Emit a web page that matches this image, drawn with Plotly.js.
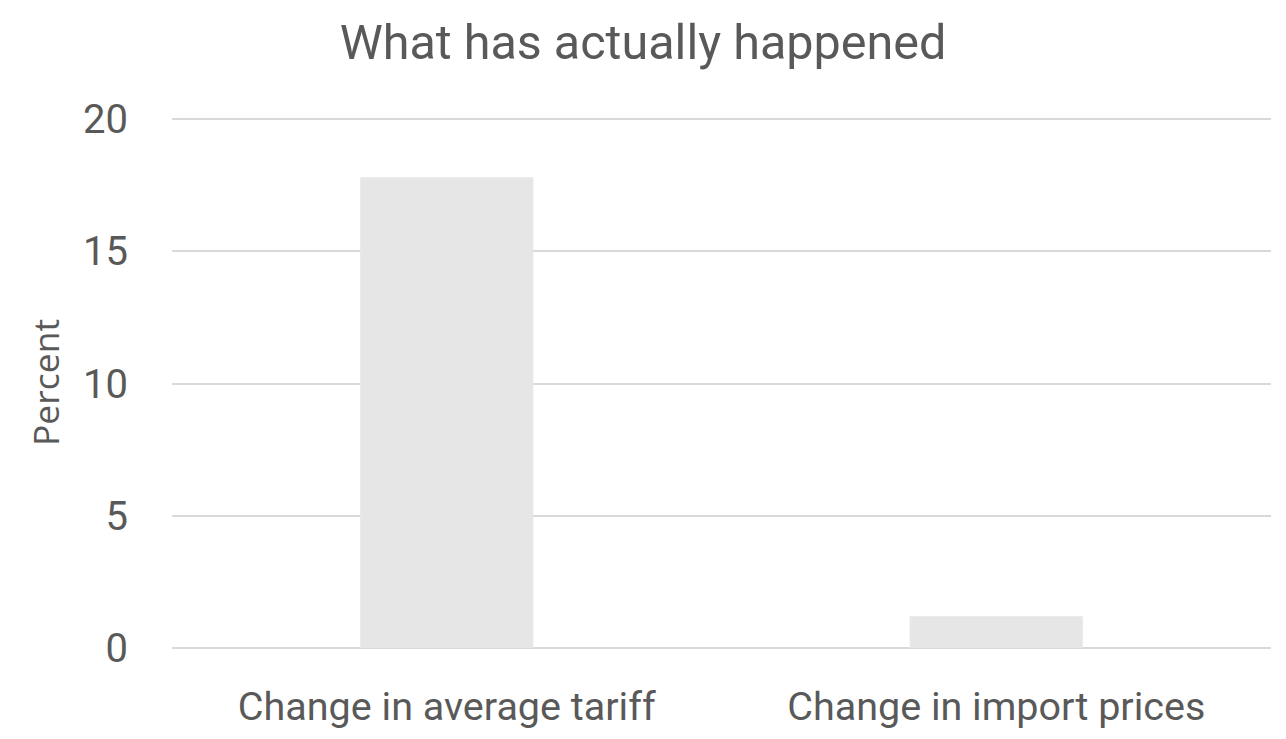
<!DOCTYPE html>
<html>
<head>
<meta charset="utf-8">
<script src="https://cdn.plot.ly/plotly-3.0.1.min.js"></script>
<style>html,body{margin:0;padding:0;background:#fff;}#chart{width:1286px;height:739px;}</style>
</head>
<body>
<div id="chart"></div>
<script>
const categories = ["Change in average tariff", "Change in import prices"];
const percentValues = [17.8, 1.2];
const yTickValues = [0, 5, 10, 15, 20];
const yTickLabels = ["0", "5", "10", "15", "20"];

const textColor = "#595959";
const fontFamily = "Roboto, 'Liberation Sans', sans-serif";

Plotly.newPlot("chart", [{
  type: "bar",
  x: categories,
  y: percentValues,
  marker: {color: "#e6e6e6", line: {width: 0}},
  hoverinfo: "x+y"
}], {
  width: 1286,
  height: 739,
  margin: {l: 172, r: 15, t: 117, b: 91},
  paper_bgcolor: "#ffffff",
  plot_bgcolor: "#ffffff",
  bargap: 0.685,
  showlegend: false,
  font: {family: fontFamily, color: textColor},
  title: {
    text: "What has actually happened",
    font: {size: 48.5, color: textColor, family: fontFamily},
    x: 0.5, xref: "container", xanchor: "center",
    y: 0.943, yref: "container", yanchor: "middle"
  },
  xaxis: {
    type: "category",
    tickfont: {size: 39.5, color: textColor},
    showgrid: false,
    showline: false,
    zeroline: false,
    ticks: "",
    ticklabelstandoff: 31
  },
  yaxis: {
    range: [0, 20.08],
    tickvals: yTickValues,
    ticktext: yTickLabels,
    tickfont: {size: 40, color: textColor},
    showgrid: true,
    gridcolor: "#d9d9d9",
    gridwidth: 2,
    zeroline: true,
    zerolinecolor: "#d9d9d9",
    zerolinewidth: 2,
    showline: false,
    ticks: "",
    ticklabelstandoff: 43,
    title: {text: "Percent", font: {size: 35.5, color: textColor, family: "'Open Sans', sans-serif"}, standoff: 12}
  }
}, {displayModeBar: false, staticPlot: true});
</script>
</body>
</html>
